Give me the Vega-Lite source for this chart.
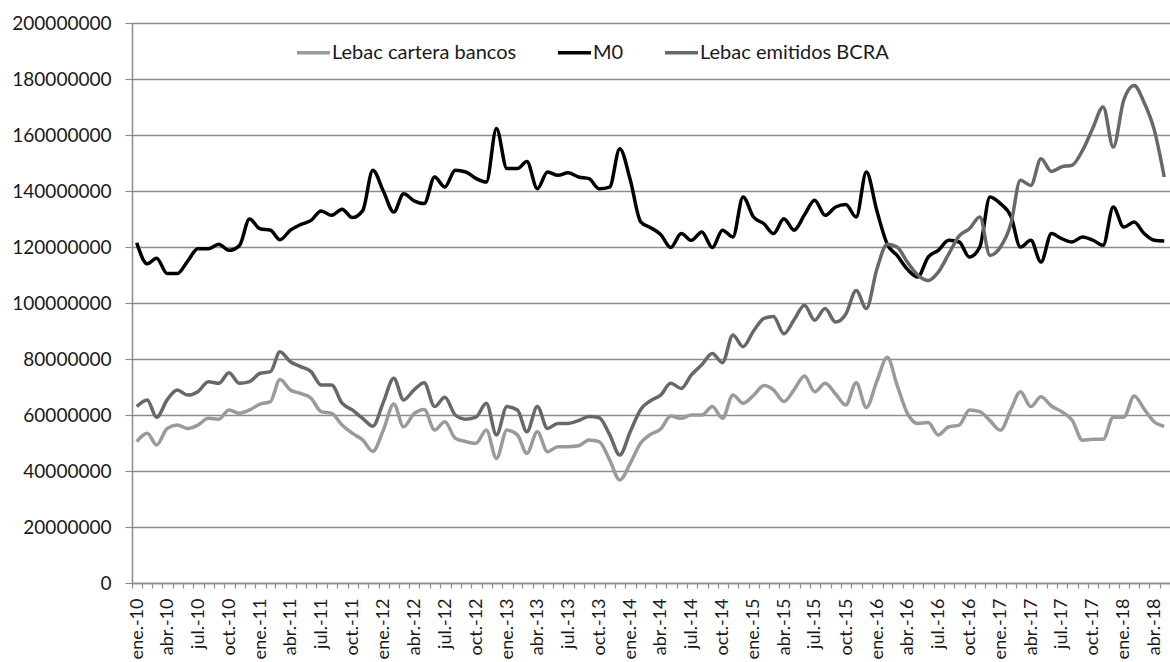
{
  "$schema": "https://vega.github.io/schema/vega-lite/v6.json",
  "width": 1038,
  "height": 560,
  "autosize": {"type": "none"},
  "padding": {"left": 132, "top": 23, "right": 0, "bottom": 79},
  "background": "white",
  "config": {"view": {"stroke": null}, "font": "Lato"},
  "data": {"values": [
    {"fecha":"2010-01-15","Lebac cartera bancos":50500000,"M0":121500000,"Lebac emitidos BCRA":63000000},
    {"fecha":"2010-02-15","Lebac cartera bancos":53500000,"M0":114000000,"Lebac emitidos BCRA":65400000},
    {"fecha":"2010-03-15","Lebac cartera bancos":49300000,"M0":116000000,"Lebac emitidos BCRA":59200000},
    {"fecha":"2010-04-15","Lebac cartera bancos":55200000,"M0":110500000,"Lebac emitidos BCRA":65400000},
    {"fecha":"2010-05-15","Lebac cartera bancos":56400000,"M0":110500000,"Lebac emitidos BCRA":68900000},
    {"fecha":"2010-06-15","Lebac cartera bancos":55200000,"M0":115000000,"Lebac emitidos BCRA":67100000},
    {"fecha":"2010-07-15","Lebac cartera bancos":56400000,"M0":119400000,"Lebac emitidos BCRA":68300000},
    {"fecha":"2010-08-15","Lebac cartera bancos":58800000,"M0":119400000,"Lebac emitidos BCRA":71900000},
    {"fecha":"2010-09-15","Lebac cartera bancos":58500000,"M0":121000000,"Lebac emitidos BCRA":71300000},
    {"fecha":"2010-10-15","Lebac cartera bancos":61800000,"M0":118800000,"Lebac emitidos BCRA":75100000},
    {"fecha":"2010-11-15","Lebac cartera bancos":60600000,"M0":120500000,"Lebac emitidos BCRA":71300000},
    {"fecha":"2010-12-15","Lebac cartera bancos":61800000,"M0":130000000,"Lebac emitidos BCRA":71900000},
    {"fecha":"2011-01-15","Lebac cartera bancos":63900000,"M0":126500000,"Lebac emitidos BCRA":74900000},
    {"fecha":"2011-02-15","Lebac cartera bancos":64800000,"M0":126000000,"Lebac emitidos BCRA":75500000},
    {"fecha":"2011-03-15","Lebac cartera bancos":72700000,"M0":122600000,"Lebac emitidos BCRA":82600000},
    {"fecha":"2011-04-15","Lebac cartera bancos":68900000,"M0":126000000,"Lebac emitidos BCRA":79000000},
    {"fecha":"2011-05-15","Lebac cartera bancos":67700000,"M0":128000000,"Lebac emitidos BCRA":77300000},
    {"fecha":"2011-06-15","Lebac cartera bancos":66000000,"M0":129500000,"Lebac emitidos BCRA":75500000},
    {"fecha":"2011-07-15","Lebac cartera bancos":61200000,"M0":132900000,"Lebac emitidos BCRA":70700000},
    {"fecha":"2011-08-15","Lebac cartera bancos":60600000,"M0":131300000,"Lebac emitidos BCRA":70700000},
    {"fecha":"2011-09-15","Lebac cartera bancos":56400000,"M0":133500000,"Lebac emitidos BCRA":64200000},
    {"fecha":"2011-10-15","Lebac cartera bancos":53500000,"M0":130500000,"Lebac emitidos BCRA":61800000},
    {"fecha":"2011-11-15","Lebac cartera bancos":51100000,"M0":133000000,"Lebac emitidos BCRA":58800000},
    {"fecha":"2011-12-15","Lebac cartera bancos":47000000,"M0":147400000,"Lebac emitidos BCRA":56000000},
    {"fecha":"2012-01-15","Lebac cartera bancos":54600000,"M0":140000000,"Lebac emitidos BCRA":64500000},
    {"fecha":"2012-02-15","Lebac cartera bancos":63900000,"M0":132500000,"Lebac emitidos BCRA":73100000},
    {"fecha":"2012-03-15","Lebac cartera bancos":55800000,"M0":139000000,"Lebac emitidos BCRA":65400000},
    {"fecha":"2012-04-15","Lebac cartera bancos":60500000,"M0":136500000,"Lebac emitidos BCRA":69000000},
    {"fecha":"2012-05-15","Lebac cartera bancos":62000000,"M0":135500000,"Lebac emitidos BCRA":71500000},
    {"fecha":"2012-06-15","Lebac cartera bancos":54600000,"M0":145000000,"Lebac emitidos BCRA":63000000},
    {"fecha":"2012-07-15","Lebac cartera bancos":57600000,"M0":141400000,"Lebac emitidos BCRA":66300000},
    {"fecha":"2012-08-15","Lebac cartera bancos":51700000,"M0":147400000,"Lebac emitidos BCRA":60000000},
    {"fecha":"2012-09-15","Lebac cartera bancos":50500000,"M0":146800000,"Lebac emitidos BCRA":58500000},
    {"fecha":"2012-10-15","Lebac cartera bancos":49900000,"M0":144500000,"Lebac emitidos BCRA":59200000},
    {"fecha":"2012-11-15","Lebac cartera bancos":54600000,"M0":143200000,"Lebac emitidos BCRA":64200000},
    {"fecha":"2012-12-15","Lebac cartera bancos":44500000,"M0":162300000,"Lebac emitidos BCRA":52900000},
    {"fecha":"2013-01-15","Lebac cartera bancos":54600000,"M0":148000000,"Lebac emitidos BCRA":63000000},
    {"fecha":"2013-02-15","Lebac cartera bancos":52900000,"M0":148000000,"Lebac emitidos BCRA":61800000},
    {"fecha":"2013-03-15","Lebac cartera bancos":46300000,"M0":150500000,"Lebac emitidos BCRA":54000000},
    {"fecha":"2013-04-15","Lebac cartera bancos":54000000,"M0":140800000,"Lebac emitidos BCRA":63000000},
    {"fecha":"2013-05-15","Lebac cartera bancos":46900000,"M0":146800000,"Lebac emitidos BCRA":55200000},
    {"fecha":"2013-06-15","Lebac cartera bancos":48700000,"M0":145600000,"Lebac emitidos BCRA":57000000},
    {"fecha":"2013-07-15","Lebac cartera bancos":48700000,"M0":146500000,"Lebac emitidos BCRA":57000000},
    {"fecha":"2013-08-15","Lebac cartera bancos":49000000,"M0":145000000,"Lebac emitidos BCRA":58000000},
    {"fecha":"2013-09-15","Lebac cartera bancos":51100000,"M0":144400000,"Lebac emitidos BCRA":59500000},
    {"fecha":"2013-10-15","Lebac cartera bancos":50500000,"M0":140800000,"Lebac emitidos BCRA":59000000},
    {"fecha":"2013-11-15","Lebac cartera bancos":44000000,"M0":141400000,"Lebac emitidos BCRA":53000000},
    {"fecha":"2013-12-15","Lebac cartera bancos":36800000,"M0":155100000,"Lebac emitidos BCRA":45700000},
    {"fecha":"2014-01-15","Lebac cartera bancos":42700000,"M0":144000000,"Lebac emitidos BCRA":54000000},
    {"fecha":"2014-02-15","Lebac cartera bancos":50000000,"M0":129000000,"Lebac emitidos BCRA":62000000},
    {"fecha":"2014-03-15","Lebac cartera bancos":53000000,"M0":127000000,"Lebac emitidos BCRA":65000000},
    {"fecha":"2014-04-15","Lebac cartera bancos":55000000,"M0":124500000,"Lebac emitidos BCRA":67100000},
    {"fecha":"2014-05-15","Lebac cartera bancos":59600000,"M0":119800000,"Lebac emitidos BCRA":71300000},
    {"fecha":"2014-06-15","Lebac cartera bancos":58800000,"M0":124800000,"Lebac emitidos BCRA":69500000},
    {"fecha":"2014-07-15","Lebac cartera bancos":60000000,"M0":122400000,"Lebac emitidos BCRA":74300000},
    {"fecha":"2014-08-15","Lebac cartera bancos":60000000,"M0":125400000,"Lebac emitidos BCRA":78000000},
    {"fecha":"2014-09-15","Lebac cartera bancos":63000000,"M0":119800000,"Lebac emitidos BCRA":82000000},
    {"fecha":"2014-10-15","Lebac cartera bancos":58800000,"M0":126000000,"Lebac emitidos BCRA":78700000},
    {"fecha":"2014-11-15","Lebac cartera bancos":67100000,"M0":123600000,"Lebac emitidos BCRA":88600000},
    {"fecha":"2014-12-15","Lebac cartera bancos":64200000,"M0":137900000,"Lebac emitidos BCRA":84400000},
    {"fecha":"2015-01-15","Lebac cartera bancos":67000000,"M0":130700000,"Lebac emitidos BCRA":90000000},
    {"fecha":"2015-02-15","Lebac cartera bancos":70500000,"M0":128300000,"Lebac emitidos BCRA":94500000},
    {"fecha":"2015-03-15","Lebac cartera bancos":69000000,"M0":124800000,"Lebac emitidos BCRA":95200000},
    {"fecha":"2015-04-15","Lebac cartera bancos":64800000,"M0":130100000,"Lebac emitidos BCRA":89000000},
    {"fecha":"2015-05-15","Lebac cartera bancos":69000000,"M0":126000000,"Lebac emitidos BCRA":94000000},
    {"fecha":"2015-06-15","Lebac cartera bancos":73900000,"M0":131500000,"Lebac emitidos BCRA":99200000},
    {"fecha":"2015-07-15","Lebac cartera bancos":68300000,"M0":136700000,"Lebac emitidos BCRA":93800000},
    {"fecha":"2015-08-15","Lebac cartera bancos":71300000,"M0":131300000,"Lebac emitidos BCRA":98000000},
    {"fecha":"2015-09-15","Lebac cartera bancos":67500000,"M0":134300000,"Lebac emitidos BCRA":93200000},
    {"fecha":"2015-10-15","Lebac cartera bancos":63600000,"M0":135200000,"Lebac emitidos BCRA":96000000},
    {"fecha":"2015-11-15","Lebac cartera bancos":71500000,"M0":130700000,"Lebac emitidos BCRA":104500000},
    {"fecha":"2015-12-15","Lebac cartera bancos":62700000,"M0":146800000,"Lebac emitidos BCRA":98000000},
    {"fecha":"2016-01-15","Lebac cartera bancos":72000000,"M0":133000000,"Lebac emitidos BCRA":112000000},
    {"fecha":"2016-02-15","Lebac cartera bancos":80600000,"M0":121000000,"Lebac emitidos BCRA":121000000},
    {"fecha":"2016-03-15","Lebac cartera bancos":70700000,"M0":117000000,"Lebac emitidos BCRA":120000000},
    {"fecha":"2016-04-15","Lebac cartera bancos":60500000,"M0":112000000,"Lebac emitidos BCRA":114500000},
    {"fecha":"2016-05-15","Lebac cartera bancos":57000000,"M0":109300000,"Lebac emitidos BCRA":110000000},
    {"fecha":"2016-06-15","Lebac cartera bancos":57300000,"M0":116400000,"Lebac emitidos BCRA":108000000},
    {"fecha":"2016-07-15","Lebac cartera bancos":52900000,"M0":118800000,"Lebac emitidos BCRA":111000000},
    {"fecha":"2016-08-15","Lebac cartera bancos":55800000,"M0":122400000,"Lebac emitidos BCRA":117500000},
    {"fecha":"2016-09-15","Lebac cartera bancos":56400000,"M0":121800000,"Lebac emitidos BCRA":124000000},
    {"fecha":"2016-10-15","Lebac cartera bancos":61800000,"M0":116400000,"Lebac emitidos BCRA":126500000},
    {"fecha":"2016-11-15","Lebac cartera bancos":61200000,"M0":120000000,"Lebac emitidos BCRA":130700000},
    {"fecha":"2016-12-15","Lebac cartera bancos":58000000,"M0":137900000,"Lebac emitidos BCRA":117000000},
    {"fecha":"2017-01-15","Lebac cartera bancos":54600000,"M0":135500000,"Lebac emitidos BCRA":120000000},
    {"fecha":"2017-02-15","Lebac cartera bancos":62000000,"M0":131000000,"Lebac emitidos BCRA":128300000},
    {"fecha":"2017-03-15","Lebac cartera bancos":68300000,"M0":120000000,"Lebac emitidos BCRA":143800000},
    {"fecha":"2017-04-15","Lebac cartera bancos":63000000,"M0":122400000,"Lebac emitidos BCRA":142000000},
    {"fecha":"2017-05-15","Lebac cartera bancos":66500000,"M0":114600000,"Lebac emitidos BCRA":151500000},
    {"fecha":"2017-06-15","Lebac cartera bancos":63200000,"M0":124800000,"Lebac emitidos BCRA":147000000},
    {"fecha":"2017-07-15","Lebac cartera bancos":61200000,"M0":123000000,"Lebac emitidos BCRA":148600000},
    {"fecha":"2017-08-15","Lebac cartera bancos":58200000,"M0":121800000,"Lebac emitidos BCRA":149200000},
    {"fecha":"2017-09-15","Lebac cartera bancos":51000000,"M0":123600000,"Lebac emitidos BCRA":154500000},
    {"fecha":"2017-10-15","Lebac cartera bancos":51300000,"M0":122500000,"Lebac emitidos BCRA":162300000},
    {"fecha":"2017-11-15","Lebac cartera bancos":51300000,"M0":120600000,"Lebac emitidos BCRA":170000000},
    {"fecha":"2017-12-15","Lebac cartera bancos":59200000,"M0":134300000,"Lebac emitidos BCRA":155700000},
    {"fecha":"2018-01-15","Lebac cartera bancos":59200000,"M0":127100000,"Lebac emitidos BCRA":172400000},
    {"fecha":"2018-02-15","Lebac cartera bancos":66800000,"M0":128900000,"Lebac emitidos BCRA":177700000},
    {"fecha":"2018-03-15","Lebac cartera bancos":62400000,"M0":125000000,"Lebac emitidos BCRA":172000000},
    {"fecha":"2018-04-15","Lebac cartera bancos":57600000,"M0":122400000,"Lebac emitidos BCRA":162000000},
    {"fecha":"2018-05-15","Lebac cartera bancos":56000000,"M0":122100000,"Lebac emitidos BCRA":145000000}
  ]},
  "transform": [
    {"fold": ["Lebac cartera bancos", "M0", "Lebac emitidos BCRA"], "as": ["serie", "valor"]}
  ],
  "mark": {"type": "line", "interpolate": "monotone", "strokeWidth": 3.5},
  "encoding": {
    "x": {
      "field": "fecha",
      "type": "temporal",
      "scale": {
        "type": "utc",
        "domain": [
          {"year": 2010, "month": 1, "date": 1, "utc": true},
          {"year": 2018, "month": 6, "date": 1, "utc": true}
        ],
        "nice": false
      },
      "axis": {
        "title": null,
        "tickCount": {"interval": "month", "step": 1},
        "labelAngle": -90,
        "labelAlign": "right",
        "labelBaseline": "middle",
        "labelOffset": 5,
        "labelExpr": "utcmonth(datum.value) % 3 == 0 ? ['ene.','feb.','mar.','abr.','may.','jun.','jul.','ago.','sep.','oct.','nov.','dic.'][utcmonth(datum.value)] + '-' + utcFormat(datum.value, '%y') : ''",
        "labelOverlap": false,
        "labelFlush": false,
        "labelBound": false,
        "domainColor": "#8c8c8c",
        "domainWidth": 1.5,
        "tickColor": "#8c8c8c",
        "tickWidth": 1.2,
        "tickSize": 5,
        "labelPadding": 10,
        "labelFontSize": 18,
        "labelFont": "Lato",
        "labelColor": "#1a1a1a",
        "grid": false
      }
    },
    "y": {
      "field": "valor",
      "type": "quantitative",
      "scale": {"domain": [0, 200000000], "nice": false, "zero": true},
      "axis": {
        "title": null,
        "values": [0, 20000000, 40000000, 60000000, 80000000, 100000000, 120000000, 140000000, 160000000, 180000000, 200000000],
        "format": "d",
        "grid": true,
        "gridColor": "#8c8c8c",
        "gridWidth": 1.5,
        "domainColor": "#8c8c8c",
        "domainWidth": 1.5,
        "tickColor": "#8c8c8c",
        "tickWidth": 1.2,
        "tickSize": 7,
        "labelPadding": 14,
        "labelFontSize": 19,
        "labelFont": "Lato",
        "labelColor": "#1a1a1a"
      }
    },
    "color": {
      "field": "serie",
      "type": "nominal",
      "scale": {
        "domain": ["Lebac cartera bancos", "M0", "Lebac emitidos BCRA"],
        "range": ["#9a9a9a", "#000000", "#686868"]
      },
      "legend": {
        "title": null,
        "orient": "none",
        "legendX": 163,
        "legendY": 11,
        "direction": "horizontal",
        "symbolType": "stroke",
        "symbolSize": 1089,
        "symbolStrokeWidth": 3.5,
        "labelFontSize": 20,
        "labelFont": "Lato",
        "labelColor": "#1a1a1a",
        "labelLimit": 400,
        "labelOffset": 0,
        "columnPadding": 34
      }
    }
  }
}
